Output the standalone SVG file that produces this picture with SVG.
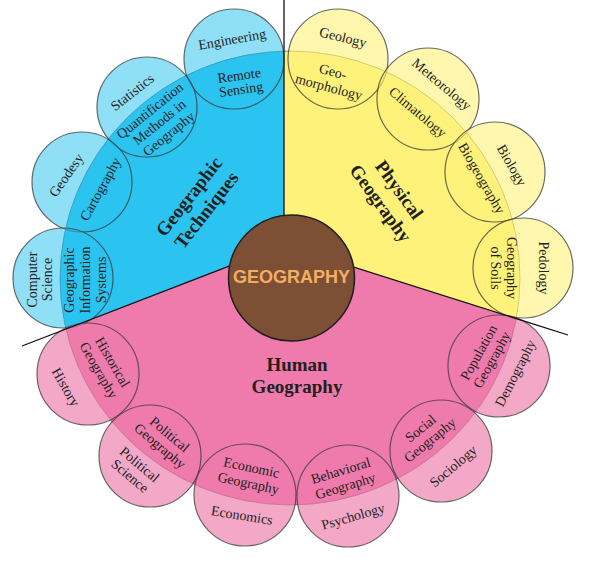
<svg xmlns="http://www.w3.org/2000/svg" width="593" height="583" viewBox="0 0 593 583">
<defs>
<style>
.t{font-family:"Liberation Serif",serif;font-size:14px;fill:#231f20;text-anchor:middle}
.h{font-family:"Liberation Serif",serif;font-size:19px;font-weight:bold;fill:#231f20;text-anchor:middle}
.cb{fill:#2bc3f0;fill-opacity:0.53;stroke:#3a3a3a;stroke-opacity:0.75;stroke-width:1.2}
.cy{fill:#fff27a;fill-opacity:0.62;stroke:#3a3a3a;stroke-opacity:0.75;stroke-width:1.2}
.cp{fill:#ef7bac;fill-opacity:0.66;stroke:#3a3a3a;stroke-opacity:0.75;stroke-width:1.2}
.ln{stroke:#111;stroke-width:1.3;fill:none}
</style>
<clipPath id="disc"><ellipse cx="290" cy="278" rx="230" ry="227"/></clipPath>
</defs>
<rect width="593" height="583" fill="#fff"/>
<g id="sectors" clip-path="url(#disc)">
<polygon id="sector-techniques" points="284,245 284,0 0,0 0,354.5" fill="#2bc3f0"/>
<polygon id="sector-physical" points="284,245 284,0 593,0 593,343" fill="#fff27a"/>
<polygon id="sector-human" points="0,354.5 284,245 593,343 593,583 0,583" fill="#ef7bac"/>
</g>
<ellipse cx="290" cy="278" rx="230" ry="227" fill="none" stroke="#444" stroke-opacity="0.6" stroke-width="1"/>

<g id="engineering">
<circle class="cb" cx="234" cy="59" r="50"/>
<text class="t" transform="translate(232,39) rotate(-10)"><tspan x="0" y="5">Engineering</tspan></text>
<text class="t" transform="translate(240,82) rotate(-8)"><tspan x="0" y="-2">Remote</tspan><tspan x="0" y="12">Sensing</tspan></text>
</g>
<g id="statistics">
<circle class="cb" cx="147" cy="107" r="50"/>
<text class="t" transform="translate(132,92) rotate(-38)"><tspan x="0" y="5">Statistics</tspan></text>
<text class="t" transform="translate(159,122) rotate(-39)"><tspan x="0" y="-10">Quantification</tspan><tspan x="0" y="5">Methods in</tspan><tspan x="0" y="20">Geography</tspan></text>
</g>
<g id="geodesy">
<circle class="cb" cx="82" cy="182" r="50"/>
<text class="t" transform="translate(66,175) rotate(-55)"><tspan x="0" y="5">Geodesy</tspan></text>
<text class="t" transform="translate(100,189) rotate(-61)"><tspan x="0" y="5">Cartography</tspan></text>
</g>
<g id="computer-science">
<circle class="cb" cx="63" cy="278" r="50"/>
<text class="t" transform="translate(39.5,279.5) rotate(-90)"><tspan x="0" y="-2.5">Computer</tspan><tspan x="0" y="12.5">Science</tspan></text>
<text class="t" transform="translate(85,280) rotate(-90)"><tspan x="0" y="-11">Geographic</tspan><tspan x="0" y="5">Information</tspan><tspan x="0" y="21">Systems</tspan></text>
</g>

<g id="geology">
<circle class="cy" cx="338" cy="59" r="50"/>
<text class="t" transform="translate(343,37) rotate(14)"><tspan x="0" y="5">Geology</tspan></text>
<text class="t" transform="translate(331,79) rotate(15)"><tspan x="0" y="-3">Geo-</tspan><tspan x="0" y="13">morphology</tspan></text>
</g>
<g id="meteorology">
<circle class="cy" cx="428" cy="99" r="51"/>
<text class="t" transform="translate(442,84) rotate(40)"><tspan x="0" y="5">Meteorology</tspan></text>
<text class="t" transform="translate(418,112) rotate(40)"><tspan x="0" y="5">Climatology</tspan></text>
</g>
<g id="biology">
<circle class="cy" cx="495" cy="172" r="50"/>
<text class="t" transform="translate(512,165) rotate(60)"><tspan x="0" y="5">Biology</tspan></text>
<text class="t" transform="translate(482,178) rotate(60)"><tspan x="0" y="5">Biogeography</tspan></text>
</g>
<g id="pedology">
<circle class="cy" cx="523" cy="268" r="50"/>
<text class="t" transform="translate(544,268) rotate(90)"><tspan x="0" y="5">Pedology</tspan></text>
<text class="t" transform="translate(504,268) rotate(90)"><tspan x="0" y="-3">Geography</tspan><tspan x="0" y="13">of Soils</tspan></text>
</g>

<g id="history">
<circle class="cp" cx="88" cy="374" r="51"/>
<text class="t" transform="translate(66,387) rotate(60)"><tspan x="0" y="5">History</tspan></text>
<text class="t" transform="translate(106,366) rotate(60)"><tspan x="0" y="-3">Historical</tspan><tspan x="0" y="13">Geography</tspan></text>
</g>
<g id="political-science">
<circle class="cp" cx="150" cy="456" r="51"/>
<text class="t" transform="translate(165,440) rotate(40)"><tspan x="0" y="-2.5">Political</tspan><tspan x="0" y="12.5">Geography</tspan></text>
<text class="t" transform="translate(135,470) rotate(40)"><tspan x="0" y="-2.5">Political</tspan><tspan x="0" y="12.5">Science</tspan></text>
</g>
<g id="economics">
<circle class="cp" cx="245" cy="495" r="51"/>
<text class="t" transform="translate(250,475) rotate(12)"><tspan x="0" y="-3">Economic</tspan><tspan x="0" y="13">Geography</tspan></text>
<text class="t" transform="translate(242,515) rotate(9)"><tspan x="0" y="5">Economics</tspan></text>
</g>
<g id="psychology">
<circle class="cp" cx="348" cy="496" r="51"/>
<text class="t" transform="translate(343,478) rotate(-17)"><tspan x="0" y="-3">Behavioral</tspan><tspan x="0" y="13">Geography</tspan></text>
<text class="t" transform="translate(353,516) rotate(-16)"><tspan x="0" y="5">Psychology</tspan></text>
</g>
<g id="sociology">
<circle class="cp" cx="441" cy="451" r="51"/>
<text class="t" transform="translate(425,434) rotate(-39)"><tspan x="0" y="-2.5">Social</tspan><tspan x="0" y="12.5">Geography</tspan></text>
<text class="t" transform="translate(453,466) rotate(-40)"><tspan x="0" y="5">Sociology</tspan></text>
</g>
<g id="demography">
<circle class="cp" cx="499" cy="366" r="51"/>
<text class="t" transform="translate(485,356) rotate(-61)"><tspan x="0" y="-2.5">Population</tspan><tspan x="0" y="12.5">Geography</tspan></text>
<text class="t" transform="translate(515,373) rotate(-63)"><tspan x="0" y="5">Demography</tspan></text>
</g>

<g id="connectors">
<line class="ln" x1="284" y1="0" x2="284" y2="245"/>
<line class="ln" x1="22" y1="346" x2="284" y2="245"/>
<line class="ln" x1="568" y1="335" x2="284" y2="245"/>
</g>

<g id="titles">
<text class="h" transform="translate(198,203.5) rotate(-52)"><tspan x="0" y="-5">Geographic</tspan><tspan x="0" y="17">Techniques</tspan></text>
<text class="h" transform="translate(390,196.5) rotate(54)"><tspan x="0" y="-5">Physical</tspan><tspan x="0" y="18">Geography</tspan></text>
<text class="h" x="297" y="371">Human</text>
<text class="h" x="297" y="393">Geography</text>
</g>

<g id="geography">
<circle cx="291.5" cy="278" r="63" fill="#7d4f35" stroke="#1e1e1e" stroke-width="1.5"/>
<text x="291.5" y="282.5" font-family="Liberation Sans, Arial, sans-serif" font-size="18" font-weight="bold" fill="#f4ae62" text-anchor="middle">GEOGRAPHY</text>
</g>
</svg>
